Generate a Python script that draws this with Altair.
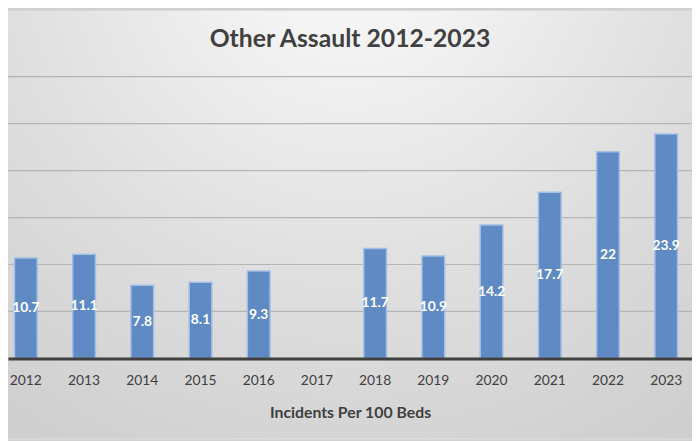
import altair as alt
import pandas as pd

years = ["2012", "2013", "2014", "2015", "2016", "2017", "2018", "2019", "2020", "2021", "2022", "2023"]
values = [10.7, 11.1, 7.8, 8.1, 9.3, None, 11.7, 10.9, 14.2, 17.7, 22, 23.9]
labels = ["10.7", "11.1", "7.8", "8.1", "9.3", "", "11.7", "10.9", "14.2", "17.7", "22", "23.9"]
grid_values = [5, 10, 15, 20, 25, 30]

df = pd.DataFrame({"year": years, "value": values, "label": labels})
gdf = pd.DataFrame({"g": grid_values})

FONT = "Lato"
TXT = "#404040"
W, H = 692, 433

x_enc = alt.X(
    "year:N",
    sort=years,
    scale=alt.Scale(domain=years, paddingInner=0.61, paddingOuter=0.18, align=0.31),
    axis=alt.Axis(
        title="Incidents Per 100 Beds",
        titleFont=FONT, titleFontSize=16, titleFontWeight="bold", titleColor=TXT,
        titlePadding=18,
        labelFont=FONT, labelFontSize=14, labelColor=TXT, labelAngle=0,
        labelPadding=15,
        ticks=False, domainColor="#404040", domainWidth=3,
        offset=-81, zindex=2,
    ),
)

y_scale = alt.Scale(domain=[-8.53, 37.05], nice=False, zero=False)

grad = alt.Gradient(
    gradient="radial",
    x1=0.5, y1=0.08, r1=0,
    x2=0.5, y2=0.08, r2=1.05,
    stops=[
        alt.GradientStop(offset=0, color="#fcfcfc"),
        alt.GradientStop(offset=0.5, color="#dedede"),
        alt.GradientStop(offset=1, color="#c6c6c6"),
    ],
)

bg = alt.Chart(pd.DataFrame({"k": [0]})).mark_rect(fill=grad, stroke=None).encode(
    x=alt.value(0), x2=alt.value(W), y=alt.value(0), y2=alt.value(H)
)

grid = alt.Chart(gdf).mark_rule(color="#b5b5b5", strokeWidth=1.2).encode(
    y=alt.Y("g:Q", scale=y_scale, axis=None),
    x=alt.value(0), x2=alt.value(W),
)

bars = alt.Chart(df).mark_bar(
    color="#5f8ac4", stroke="#a2bfe5", strokeWidth=1.5
).transform_filter("datum.value != null").encode(
    x=x_enc,
    y=alt.Y("value:Q", scale=y_scale, axis=None),
    y2=alt.datum(0),
)

text = alt.Chart(df).transform_filter("datum.value != null").transform_calculate(
    mid="datum.value / 2"
).mark_text(
    color="white", font=FONT, fontSize=14, fontWeight="bold", baseline="middle"
).encode(
    x=alt.X("year:N", sort=years),
    y=alt.Y("mid:Q", scale=y_scale),
    text="label:N",
)

chart = alt.layer(bg, grid, bars, text).properties(
    width=W,
    height=H,
    autosize=alt.AutoSizeParams(type="none"),
    padding={"left": 0, "top": 0, "right": 0, "bottom": 0},
    title=alt.TitleParams(
        "Other Assault 2012-2023",
        font=FONT, fontSize=25, fontWeight="bold", color=TXT,
        anchor="middle", frame="group", offset=-62, baseline="alphabetic",
    ),
).configure_view(
    stroke=None
).configure(background="#d0d0d0")

chart.save("out.html", embed_options={"renderer": "svg", "actions": False})
